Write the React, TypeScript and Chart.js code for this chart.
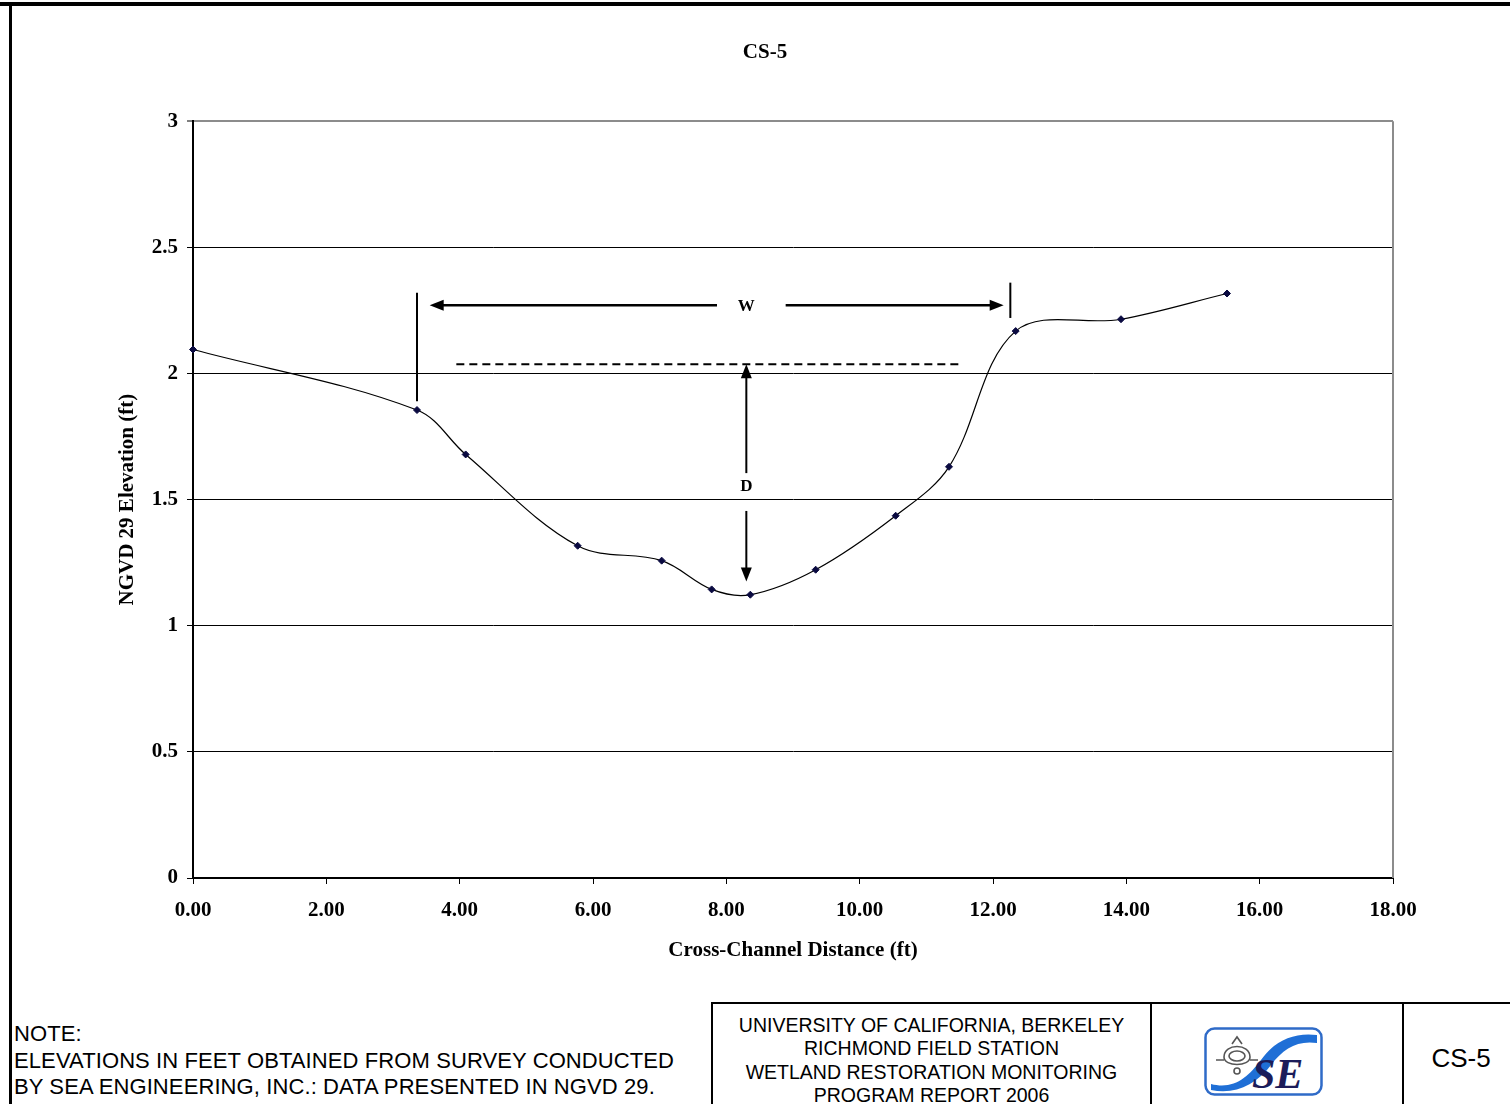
import React, { useEffect, useRef } from "react";
import { Chart, registerables } from "chart.js";

Chart.register(...registerables);

// ---- data ----
const chartTitle = "CS-5";
const xAxisTitle = "Cross-Channel Distance (ft)";
const yAxisTitle = "NGVD 29 Elevation (ft)";

const distances = [0, 3.36, 4.09, 5.77, 7.03, 7.78, 8.36, 9.34, 10.54, 11.34, 12.34, 13.92, 15.51];
const elevations = [2.095, 1.855, 1.679, 1.317, 1.258, 1.144, 1.123, 1.222, 1.436, 1.63, 2.168, 2.215, 2.317];

const xTickValues = [0, 2, 4, 6, 8, 10, 12, 14, 16, 18];
const xTickLabels = ["0.00", "2.00", "4.00", "6.00", "8.00", "10.00", "12.00", "14.00", "16.00", "18.00"];
const yTickValues = [0, 0.5, 1, 1.5, 2, 2.5, 3];
const yTickLabels = ["0", "0.5", "1", "1.5", "2", "2.5", "3"];

// annotation values (data units)
const wMarkerLeft = [3.36, 2.32, 1.89]; // x, yTop, yBottom
const wMarkerRight = [12.26, 2.36, 2.22];
const wArrowY = 2.27;
const wArrowLeft = [7.86, 3.55]; // tail x, tip x
const wArrowRight = [8.89, 12.16];
const wLabel = [8.3, 2.267, "W"];
const dashedLine = [3.95, 11.53, 2.037]; // x1, x2, y
const dArrowX = 8.3;
const dArrowUp = [1.605, 2.037]; // tail y, tip y
const dArrowDown = [1.455, 1.175];
const dLabel = [8.3, 1.55, "D"];

const noteLines = [
  "NOTE:",
  "ELEVATIONS IN FEET OBTAINED FROM SURVEY CONDUCTED",
  "BY SEA ENGINEERING, INC.: DATA PRESENTED IN NGVD 29.",
];
const blockLines = [
  "UNIVERSITY OF CALIFORNIA, BERKELEY",
  "RICHMOND FIELD STATION",
  "WETLAND RESTORATION MONITORING",
  "PROGRAM REPORT 2006",
];
const sheetId = "CS-5";

const serif = "'Liberation Serif', 'Times New Roman', serif";
const sans = "'Liberation Sans', Arial, sans-serif";

function arrowHead(ctx: CanvasRenderingContext2D, tx: number, ty: number, dx: number, dy: number) {
  const len = 14;
  const half = 5.5;
  const bx = tx - dx * len;
  const by = ty - dy * len;
  ctx.beginPath();
  ctx.moveTo(tx, ty);
  ctx.lineTo(bx - dy * half, by + dx * half);
  ctx.lineTo(bx + dy * half, by - dx * half);
  ctx.closePath();
  ctx.fill();
}

const annotationPlugin = {
  id: "annotations",
  afterDatasetsDraw(chart: any) {
    const { ctx, scales, chartArea } = chart;
    const px = (v: number) => scales.x.getPixelForValue(v);
    const py = (v: number) => scales.y.getPixelForValue(v);
    ctx.save();
    // right plot border
    ctx.strokeStyle = "#8c8c8c";
    ctx.lineWidth = 2;
    ctx.beginPath();
    ctx.moveTo(chartArea.right, chartArea.top);
    ctx.lineTo(chartArea.right, chartArea.bottom);
    ctx.stroke();

    ctx.strokeStyle = "#000";
    ctx.fillStyle = "#000";
    ctx.lineWidth = 2;
    // W markers
    for (const m of [wMarkerLeft, wMarkerRight]) {
      ctx.beginPath();
      ctx.moveTo(px(m[0]), py(m[1]));
      ctx.lineTo(px(m[0]), py(m[2]));
      ctx.stroke();
    }
    // W arrows
    ctx.lineWidth = 2.5;
    for (const a of [wArrowLeft, wArrowRight]) {
      const dir = a[1] > a[0] ? 1 : -1;
      ctx.beginPath();
      ctx.moveTo(px(a[0]), py(wArrowY));
      ctx.lineTo(px(a[1]) - dir * 10, py(wArrowY));
      ctx.stroke();
      arrowHead(ctx, px(a[1]), py(wArrowY), dir, 0);
    }
    // dashed line
    ctx.lineWidth = 2;
    ctx.setLineDash([8, 5]);
    ctx.beginPath();
    ctx.moveTo(px(dashedLine[0]), py(dashedLine[2]));
    ctx.lineTo(px(dashedLine[1]), py(dashedLine[2]));
    ctx.stroke();
    ctx.setLineDash([]);
    // D arrows
    for (const a of [dArrowUp, dArrowDown]) {
      const dir = a[1] > a[0] ? -1 : 1; // pixel direction
      ctx.beginPath();
      ctx.moveTo(px(dArrowX), py(a[0]));
      ctx.lineTo(px(dArrowX), py(a[1]) - dir * 10);
      ctx.stroke();
      arrowHead(ctx, px(dArrowX), py(a[1]), 0, dir);
    }
    // labels
    ctx.font = `bold 17px ${serif}`;
    ctx.textAlign = "center";
    ctx.textBaseline = "middle";
    for (const l of [wLabel, dLabel]) {
      ctx.fillText(l[2] as string, px(l[0] as number), py(l[1] as number));
    }
    ctx.restore();
  },
};

function ChartCanvas() {
  const ref = useRef<HTMLCanvasElement>(null);
  useEffect(() => {
    if (!ref.current) return;
    const tickFont = { family: serif, size: 21, weight: "bold" as const };
    const titleFont = { family: serif, size: 21, weight: "bold" as const };
    const chart = new Chart(ref.current, {
      type: "line",
      data: {
        datasets: [
          {
            data: distances.map((d, i) => ({ x: d, y: elevations[i] })),
            borderColor: "#000",
            borderWidth: 1.2,
            tension: 0.35,
            fill: false,
            clip: false,
            pointStyle: "rectRot",
            pointRadius: 3.5,
            pointBackgroundColor: "#0a0a40",
            pointBorderColor: "#0a0a40",
            pointBorderWidth: 1,
          },
        ],
      },
      options: {
        responsive: false,
        animation: false,
        events: [],
        layout: { padding: { left: 125, right: 117, top: 0, bottom: 25 } },
        plugins: {
          legend: { display: false },
          tooltip: { enabled: false },
          title: {
            display: true,
            text: chartTitle,
            color: "#000",
            font: { family: serif, size: 21, weight: "bold" },
            padding: { top: 33, bottom: 56 },
          },
        },
        scales: {
          x: {
            type: "linear",
            min: 0,
            max: 18,
            afterBuildTicks: (s: any) => {
              s.ticks = xTickValues.map((v) => ({ value: v }));
            },
            afterFit: (s: any) => {
              s.height = 89;
            },
            ticks: {
              callback: (_v: any, i: number) => xTickLabels[i],
              color: "#000",
              font: tickFont,
              padding: 14,
              maxRotation: 0,
              autoSkip: false,
            },
            grid: { drawOnChartArea: false, tickLength: 6, tickColor: "#000", tickWidth: 1 },
            border: { color: "#000", width: 2 },
            title: {
              display: true,
              text: xAxisTitle,
              color: "#000",
              font: titleFont,
              padding: { top: 4, bottom: 4 },
            },
          },
          y: {
            type: "linear",
            min: 0,
            max: 3,
            afterBuildTicks: (s: any) => {
              s.ticks = yTickValues.map((v) => ({ value: v }));
            },
            afterFit: (s: any) => {
              s.width = 56;
            },
            ticks: {
              callback: (_v: any, i: number) => yTickLabels[i],
              color: "#000",
              font: tickFont,
              padding: 9,
              autoSkip: false,
            },
            grid: {
              color: (c: any) => (c.tick && c.tick.value === 3 ? "#8c8c8c" : "#000"),
              lineWidth: (c: any) => (c.tick && c.tick.value === 3 ? 2 : 1),
              tickLength: 6,
              tickColor: "#000",
              tickWidth: 1,
            },
            border: { color: "#000", width: 2 },
            title: {
              display: true,
              text: yAxisTitle,
              color: "#000",
              font: titleFont,
              padding: { top: -22, bottom: 4 },
            },
          },
        },
      } as any,
      plugins: [annotationPlugin],
    });
    return () => chart.destroy();
  }, []);
  return (
    <canvas
      ref={ref}
      width={1498}
      height={985}
      style={{ position: "absolute", left: 12, top: 7, width: 1498, height: 985 }}
    />
  );
}

function Logo() {
  return (
    <svg width={119} height={69} viewBox="0 0 119 69" style={{ display: "block" }}>
      <rect x={1.5} y={1.5} width={116} height={66} rx={9} ry={9} fill="#fff" stroke="#2f6bc8" strokeWidth={2.5} />
      <path
        d="M 7 57 C 30 63, 44 50, 57 33 C 70 14, 90 5, 113 8 L 113 16 C 93 13, 79 22, 67 38 C 52 58, 31 68, 7 63 Z"
        fill="#1f6fd6"
      />
      <g fill="none" stroke="#555" strokeWidth={1.6}>
        <path d="M 20 30 C 20 16, 46 16, 46 30 C 46 40, 20 40, 20 30 Z" />
        <ellipse cx={33} cy={29} rx={8} ry={5} />
        <path d="M 28 17 L 33 10 L 38 17" />
        <circle cx={33} cy={44} r={3} />
        <path d="M 12 33 L 20 33 M 46 33 L 54 33" />
      </g>
      <text
        x={48}
        y={61}
        fontFamily={serif}
        fontStyle="italic"
        fontWeight="bold"
        fontSize={42}
        fill="#1c1c5a"
      >
        SE
      </text>
    </svg>
  );
}

export default function App() {
  return (
    <div
      style={{
        position: "absolute",
        left: 0,
        top: 0,
        width: 1510,
        height: 1104,
        overflow: "hidden",
        background: "#fff",
      }}
    >
      <div style={{ position: "absolute", left: 0, top: 2, width: 1510, height: 4, background: "#000" }} />
      <div style={{ position: "absolute", left: 9, top: 2, width: 3, height: 1102, background: "#000" }} />
      <ChartCanvas />
      <div
        style={{
          position: "absolute",
          left: 14,
          top: 1021,
          fontFamily: sans,
          fontSize: 22,
          letterSpacing: "0.1px",
          lineHeight: "26.5px",
          color: "#000",
          whiteSpace: "nowrap",
        }}
      >
        {noteLines.map((l, i) => (
          <div key={i}>{l}</div>
        ))}
      </div>
      <div
        style={{
          position: "absolute",
          left: 711,
          top: 1002,
          width: 820,
          height: 120,
          borderTop: "2px solid #000",
          borderLeft: "2px solid #000",
        }}
      >
        <div
          style={{
            position: "absolute",
            left: 0,
            top: 0,
            width: 437,
            height: 120,
            borderRight: "2px solid #000",
          }}
        >
          <div
            style={{
              position: "absolute",
              left: 0,
              top: 10,
              width: 437,
              textAlign: "center",
              fontFamily: sans,
              fontSize: 19.5,
              lineHeight: "23.3px",
              color: "#000",
              whiteSpace: "nowrap",
            }}
          >
            {blockLines.map((l, i) => (
              <div key={i}>{l}</div>
            ))}
          </div>
        </div>
        <div
          style={{
            position: "absolute",
            left: 439,
            top: 0,
            width: 250,
            height: 120,
            borderRight: "2px solid #000",
          }}
        >
          <div style={{ position: "absolute", left: 52, top: 23 }}>
            <Logo />
          </div>
        </div>
        <div
          style={{
            position: "absolute",
            left: 688,
            top: 38,
            width: 120,
            fontFamily: sans,
            fontSize: 26,
            color: "#000",
            textAlign: "center",
            lineHeight: "32px",
          }}
        >
          {sheetId}
        </div>
      </div>
    </div>
  );
}
